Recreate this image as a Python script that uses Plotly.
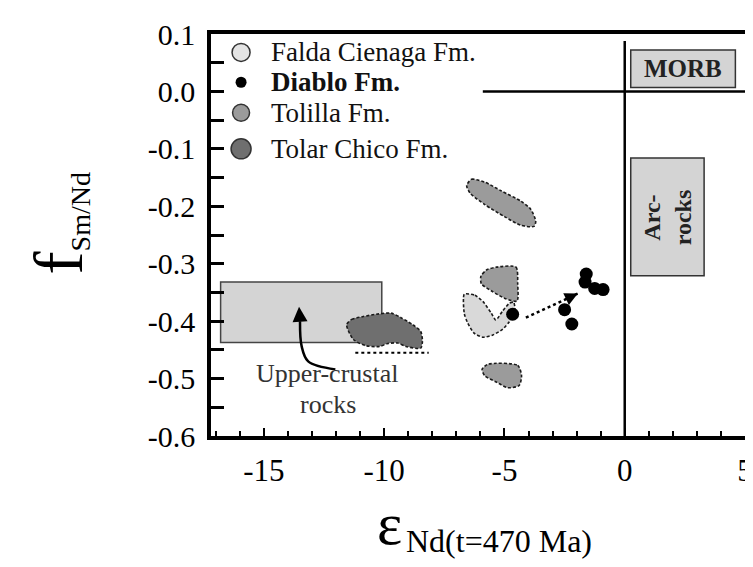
import plotly.graph_objects as go

# ---------------- data ----------------
formations = ["Falda Cienaga Fm.", "Diablo Fm.", "Tolilla Fm.", "Tolar Chico Fm."]

# Falda Cienaga field (light grey crescent)
falda_x = [-6.67, -6.23, -5.89, -5.55, -5.36, -5.07, -4.80, -4.62, -4.56, -4.80,
           -5.07, -5.48, -5.89, -6.26, -6.53, -6.67]
falda_y = [-0.353, -0.355, -0.366, -0.386, -0.398, -0.382, -0.369, -0.367, -0.384, -0.401,
           -0.414, -0.424, -0.428, -0.421, -0.403, -0.387]

# Tolilla fields (three medium grey fields)
tolilla_a_x = [-6.57, -6.37, -5.82, -5.14, -4.32, -3.91, -3.70, -3.77, -4.32, -5.00, -5.82, -6.43]
tolilla_a_y = [-0.164, -0.153, -0.158, -0.173, -0.191, -0.205, -0.226, -0.235, -0.233, -0.218, -0.197, -0.177]
tolilla_b_x = [-5.34, -4.52, -4.45, -4.48, -5.00, -5.55, -5.96, -5.98, -5.75]
tolilla_b_y = [-0.306, -0.306, -0.335, -0.365, -0.360, -0.347, -0.335, -0.322, -0.311]
tolilla_c_x = [-5.68, -4.45, -4.29, -4.39, -4.86, -5.34, -5.82, -5.93]
tolilla_c_y = [-0.475, -0.477, -0.495, -0.512, -0.516, -0.506, -0.495, -0.484]

# Tolar Chico field (dark grey)
tolar_x = [-11.56, -11.35, -10.87, -10.33, -9.71, -9.30, -8.82, -8.48, -8.41, -8.48,
           -9.10, -9.44, -9.85, -10.19, -10.74, -11.28]
tolar_y = [-0.406, -0.397, -0.392, -0.388, -0.386, -0.394, -0.406, -0.418, -0.435, -0.447,
           -0.444, -0.438, -0.439, -0.444, -0.443, -0.432]

# Diablo Fm. samples
diablo_x = [-4.66, -2.50, -2.20, -1.60, -1.65, -1.25, -0.90]
diablo_y = [-0.388, -0.380, -0.405, -0.318, -0.332, -0.343, -0.345]

# reference fields [x0, x1, y0, y1]
morb_box = [0.25, 4.6, 0.007, 0.072]
arc_box = [0.25, 3.3, -0.321, -0.116]
crust_box = [-16.8, -10.1, -0.437, -0.332]
crust_floor = [-11.2, -8.15, -0.455]   # dotted line x0, x1, y
chur_h_start = -5.9                      # start of the fSm/Nd = 0 line
diablo_trend = [-4.11, -0.394, -1.95, -0.352]
crust_arrow_x = [-12.03, -13.16, -13.43, -13.5]
crust_arrow_y = [-0.484, -0.470, -0.444, -0.40]

x_ticks = [-15, -10, -5, 0, 5]
x_ticktext = ["-15", "-10", "-5", "0", "5"]
y_ticks = [0.1, 0.0, -0.1, -0.2, -0.3, -0.4, -0.5, -0.6]
y_ticktext = ["0.1", "0.0", "-0.1", "-0.2", "-0.3", "-0.4", "-0.5", "-0.6"]

# ---------------- figure ----------------
SERIF = "Liberation Serif, Times New Roman, serif"
OUT = dict(color="#1a1a1a", width=1.6, dash="3px,2px")


def joined(parts):
    xs, ys = [], []
    for px, py in parts:
        if xs:
            xs.append(None); ys.append(None)
        xs += px + [px[0]]
        ys += py + [py[0]]
    return xs, ys


fig = go.Figure()

tx, ty = joined([(tolar_x, tolar_y)])
fig.add_trace(go.Scatter(x=tx, y=ty, mode="lines", fill="toself", fillcolor="#6f6f6f",
                         line=dict(shape="spline", smoothing=0.7, **OUT), name=formations[3],
                         showlegend=False, hoverinfo="skip"))
lx, ly = joined([(tolilla_a_x, tolilla_a_y), (tolilla_b_x, tolilla_b_y), (tolilla_c_x, tolilla_c_y)])
fig.add_trace(go.Scatter(x=lx, y=ly, mode="lines", fill="toself", fillcolor="#9b9b9b",
                         line=dict(shape="spline", smoothing=0.7, **OUT), name=formations[2],
                         showlegend=False, hoverinfo="skip"))
fx, fy = joined([(falda_x, falda_y)])
fig.add_trace(go.Scatter(x=fx, y=fy, mode="lines", fill="toself", fillcolor="#d9d9d9",
                         line=dict(shape="spline", smoothing=0.6, **OUT), name=formations[0],
                         showlegend=False, hoverinfo="skip"))
fig.add_trace(go.Scatter(x=diablo_x, y=diablo_y, mode="markers", name=formations[1],
                         marker=dict(color="black", size=13), showlegend=False))

# curved arrow from the upper-crustal label
fig.add_trace(go.Scatter(x=crust_arrow_x, y=crust_arrow_y, mode="lines",
                         line=dict(color="black", width=2.5, shape="spline"),
                         showlegend=False, hoverinfo="skip"))
fig.add_annotation(x=-13.54, y=-0.375, ax=crust_arrow_x[-1], ay=crust_arrow_y[-1],
                   xref="x", yref="y", axref="x", ayref="y", text="", showarrow=True,
                   arrowhead=2, arrowsize=1.2, arrowwidth=2.5, arrowcolor="black")

# Diablo trend arrow (dotted)
fig.add_shape(type="line", x0=diablo_trend[0], y0=diablo_trend[1], x1=diablo_trend[2],
              y1=diablo_trend[3], line=dict(color="black", width=2.5, dash="dot"))
fig.add_annotation(x=diablo_trend[2], y=diablo_trend[3], ax=-2.3, ay=-0.359,
                   xref="x", yref="y", axref="x", ayref="y", text="", showarrow=True,
                   arrowhead=2, arrowsize=1.3, arrowwidth=2, arrowcolor="black")

# reference boxes
fig.add_shape(type="rect", x0=crust_box[0], x1=crust_box[1], y0=crust_box[2], y1=crust_box[3],
              fillcolor="#d4d4d4", line=dict(color="#444", width=1.5), layer="below")
fig.add_shape(type="rect", x0=morb_box[0], x1=morb_box[1], y0=morb_box[2], y1=morb_box[3],
              fillcolor="#d4d4d4", line=dict(color="#333", width=1.5), layer="below")
fig.add_shape(type="rect", x0=arc_box[0], x1=arc_box[1], y0=arc_box[2], y1=arc_box[3],
              fillcolor="#d4d4d4", line=dict(color="#333", width=1.5), layer="below")
fig.add_shape(type="line", x0=crust_floor[0], x1=crust_floor[1], y0=crust_floor[2], y1=crust_floor[2],
              line=dict(color="black", width=2, dash="dot"))

# CHUR reference lines
fig.add_shape(type="line", x0=0, x1=0, y0=-0.6, y1=0.088, line=dict(color="black", width=2.5))
fig.add_shape(type="line", x0=chur_h_start, x1=5, y0=0, y1=0, line=dict(color="black", width=2.5))

# box labels
fig.add_annotation(x=(morb_box[0] + morb_box[1]) / 2, y=(morb_box[2] + morb_box[3]) / 2,
                   text="<b>MORB</b>", showarrow=False, font=dict(family=SERIF, size=25, color="#222"))
fig.add_annotation(x=(arc_box[0] + arc_box[1]) / 2, y=(arc_box[2] + arc_box[3]) / 2,
                   text="<b>Arc-<br>rocks</b>", textangle=-90, showarrow=False,
                   font=dict(family=SERIF, size=24, color="#222"))
fig.add_annotation(x=-12.38, y=-0.492, text="Upper-crustal", showarrow=False,
                   font=dict(family=SERIF, size=26, color="#333"))
fig.add_annotation(x=-12.35, y=-0.545, text="rocks", showarrow=False,
                   font=dict(family=SERIF, size=26, color="#333"))

# legend (drawn in the plot)
leg_y = [0.068, 0.016, -0.037, -0.100]
leg_icon = [dict(color="#e4e4e4", size=18, symbol="circle", line=dict(color="#333", width=1.5)),
            dict(color="black", size=11, symbol="circle"),
            dict(color="#9b9b9b", size=17, symbol="circle", line=dict(color="#333", width=1.5)),
            dict(color="#6f6f6f", size=20, symbol="circle", line=dict(color="#333", width=1.5))]
for i, name in enumerate(formations):
    fig.add_trace(go.Scatter(x=[-15.95], y=[leg_y[i]], mode="markers", marker=leg_icon[i],
                             showlegend=False, hoverinfo="skip"))
    fig.add_annotation(x=-14.8, y=leg_y[i], xanchor="left", showarrow=False,
                       text=("<b>%s</b>" % name) if name.startswith("Diablo") else name,
                       font=dict(family=SERIF, size=27, color="#111"))

# axis titles (x title split into the symbol and its subscript)
fig.add_annotation(xref="paper", yref="paper", x=0.362, y=-0.219, xanchor="right", yanchor="middle",
                   text="ε", showarrow=False, font=dict(family=SERIF, size=60, color="black"))
fig.add_annotation(xref="paper", yref="paper", x=0.362, y=-0.26, xanchor="left", yanchor="middle",
                   text="Nd(t=470 Ma)", showarrow=False, font=dict(family=SERIF, size=32, color="black"))
fig.add_annotation(xref="paper", yref="paper", x=-0.285, y=0.53, xanchor="center",
                   text="<span style='font-size:70px'>f</span><sub>Sm/Nd</sub>", textangle=-90,
                   showarrow=False, font=dict(family=SERIF, size=40, color="black"))

fig.update_xaxes(range=[-17.2, 5], tickvals=x_ticks, ticktext=x_ticktext,
                 ticks="inside", ticklen=8, tickwidth=2, tickcolor="black",
                 minor=dict(dtick=1, tick0=0, ticks="inside", ticklen=5, tickwidth=1.5, tickcolor="black"),
                 showline=True, linewidth=3.5, linecolor="black", mirror=True,
                 showgrid=False, zeroline=False, ticklabelstandoff=4,
                 tickfont=dict(family=SERIF, size=31, color="black"))
fig.update_yaxes(range=[-0.6, 0.1], tickvals=y_ticks, ticktext=y_ticktext,
                 ticks="inside", ticklen=13, tickwidth=3, tickcolor="black",
                 minor=dict(dtick=0.05, tick0=0, ticks="inside", ticklen=13, tickwidth=3, tickcolor="black"),
                 showline=True, linewidth=3.5, linecolor="black", mirror=True,
                 showgrid=False, zeroline=False, ticklabelstandoff=6,
                 tickfont=dict(family=SERIF, size=30, color="black"))

fig.update_layout(width=753, height=567, margin=dict(l=203, r=8, t=26, b=139),
                  paper_bgcolor="white", plot_bgcolor="white", showlegend=False)

fig.write_html("out.html")
